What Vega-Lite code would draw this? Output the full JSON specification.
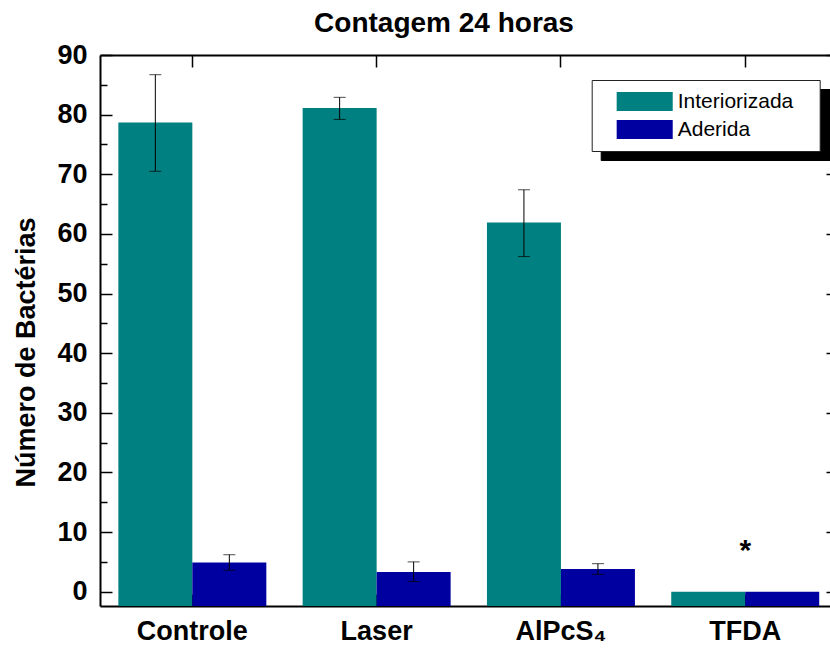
{
  "$schema": "https://vega.github.io/schema/vega-lite/v6.json",
  "autosize": {"type": "none"},
  "padding": {"left": 100, "top": 55, "right": 0, "bottom": 46},
  "width": 730,
  "height": 551,
  "background": "white",
  "config": {
    "font": "Liberation Sans",
    "view": {"stroke": null},
    "axis": {"grid": false, "domainColor": "black", "tickColor": "black", "domainWidth": 2, "tickWidth": 1.5, "labelColor": "black", "titleColor": "black", "labelFont": "Liberation Sans", "titleFont": "Liberation Sans"}
  },
  "datasets": {
    "barras": [
      {"grupo": "Controle", "serie": "Interiorizada", "valor": 78.7, "lo": 70.5, "hi": 86.7},
      {"grupo": "Controle", "serie": "Aderida", "valor": 4.9, "lo": 3.6, "hi": 6.2},
      {"grupo": "Laser", "serie": "Interiorizada", "valor": 81.1, "lo": 79.2, "hi": 82.9},
      {"grupo": "Laser", "serie": "Aderida", "valor": 3.3, "lo": 1.7, "hi": 5.0},
      {"grupo": "AlPcS₄", "serie": "Interiorizada", "valor": 61.9, "lo": 56.2, "hi": 67.4},
      {"grupo": "AlPcS₄", "serie": "Aderida", "valor": 3.8, "lo": 2.9, "hi": 4.7},
      {"grupo": "TFDA", "serie": "Interiorizada", "valor": 0},
      {"grupo": "TFDA", "serie": "Aderida", "valor": 0}
    ],
    "notas": [
      {"grupo": "TFDA", "y": 5.3, "texto": "*"}
    ]
  },
  "resolve": {"axis": {"x": "independent", "y": "independent"}},
  "layer": [
    {
      "data": {"name": "barras"},
      "mark": {"type": "bar"},
      "encoding": {
        "x": {"field": "grupo", "type": "nominal", "sort": ["Controle", "Laser", "AlPcS₄", "TFDA"],
          "scale": {"paddingInner": 0.197, "paddingOuter": 0.079, "align": 0.63},
          "axis": {"orient": "bottom", "title": null, "labelAngle": 0, "labelFontSize": 27, "labelFontWeight": "bold", "tickSize": -12, "labelPadding": 24}},
        "xOffset": {"field": "serie", "type": "nominal", "scale": {"domain": ["Interiorizada", "Aderida"], "paddingInner": 0, "paddingOuter": 0}},
        "y": {"field": "valor", "type": "quantitative",
          "scale": {"domain": [-2.4, 90], "nice": false, "zero": false},
          "axis": {"orient": "left", "title": "Número de Bactérias", "titleFontSize": 27, "titleFontWeight": "bold", "titleX": -66, "titleY": 297, "titleAngle": -90, "titleAlign": "center", "titleBaseline": "alphabetic",
            "values": [0, 5, 10, 15, 20, 25, 30, 35, 40, 45, 50, 55, 60, 65, 70, 75, 80, 85, 90],
            "labelExpr": "datum.value % 10 === 0 ? datum.label : ''",
            "labelFontSize": 27, "labelFontWeight": "bold", "labelPadding": 25,
            "tickSize": {"condition": {"test": "datum.value % 10 === 0", "value": -12}, "value": -7}}},
        "y2": {"datum": -2.4},
        "color": {"field": "serie", "type": "nominal",
          "scale": {"domain": ["Interiorizada", "Aderida"], "range": ["#008080", "#0000A0"]},
          "legend": {"title": null, "orient": "none", "legendX": 491.7, "legendY": 25, "zindex": 2,
            "fillColor": "white", "strokeColor": "#222222", "padding": 11, "cornerRadius": 0,
            "symbolType": "M-2.95,-1H2.95V1H-2.95Z", "symbolSize": 361, "symbolStrokeWidth": 0, "symbolOffset": 31.5,
            "labelFontSize": 21, "labelFont": "Liberation Sans", "labelColor": "black", "labelOffset": 22.5, "rowPadding": 6,
            "labelExpr": "datum.label + '\u2800'"}},
        "opacity": {"field": "serie", "type": "nominal",
          "scale": {"domain": ["Aderida", "Interiorizada"], "range": [1, 1]},
          "legend": {"title": null, "orient": "none", "legendX": 500.7, "legendY": 34, "zindex": 1,
            "fillColor": "black", "strokeColor": "black", "padding": 11, "cornerRadius": 0,
            "symbolType": "M-2.95,-1H2.95V1H-2.95Z", "symbolSize": 361, "symbolStrokeWidth": 0, "symbolOffset": 187, "symbolFillColor": "black",
            "labelFontSize": 21, "labelFont": "Liberation Sans", "labelColor": "black", "labelOffset": 0, "rowPadding": 6,
            "labelExpr": "''"}}
      }
    },
    {
      "data": {"name": "barras"},
      "transform": [{"filter": "isValid(datum.lo)"}],
      "mark": {"type": "rule", "color": "black", "strokeWidth": 1},
      "encoding": {
        "x": {"field": "grupo", "type": "nominal", "sort": ["Controle", "Laser", "AlPcS₄", "TFDA"],
          "axis": {"orient": "top", "title": "Contagem 24 horas", "titleFontSize": 28, "titleFontWeight": "bold", "titleX": 343.5, "titleY": -23.3, "titleAlign": "center", "titleBaseline": "alphabetic", "titleAngle": 0, "labels": false, "tickSize": -12}},
        "xOffset": {"field": "serie", "type": "nominal"},
        "y": {"field": "lo", "type": "quantitative",
          "axis": {"orient": "right", "title": null, "labels": false, "domain": false, "tickSize": -4,
            "values": [0, 10, 20, 30, 40, 50, 60, 70, 80, 90]}},
        "y2": {"field": "hi"}
      }
    },
    {
      "data": {"name": "barras"},
      "transform": [{"filter": "isValid(datum.lo)"}],
      "mark": {"type": "tick", "color": "black", "thickness": 1, "size": 12, "orient": "horizontal"},
      "encoding": {
        "x": {"field": "grupo", "type": "nominal", "sort": ["Controle", "Laser", "AlPcS₄", "TFDA"], "axis": null},
        "xOffset": {"field": "serie", "type": "nominal"},
        "y": {"field": "hi", "type": "quantitative", "axis": null}
      }
    },
    {
      "data": {"name": "barras"},
      "transform": [{"filter": "isValid(datum.lo)"}],
      "mark": {"type": "tick", "color": "black", "thickness": 1, "size": 12, "orient": "horizontal"},
      "encoding": {
        "x": {"field": "grupo", "type": "nominal", "sort": ["Controle", "Laser", "AlPcS₄", "TFDA"], "axis": null},
        "xOffset": {"field": "serie", "type": "nominal"},
        "y": {"field": "lo", "type": "quantitative", "axis": null}
      }
    },
    {
      "data": {"name": "notas"},
      "mark": {"type": "text", "fontSize": 30, "fontWeight": "bold", "font": "Liberation Sans", "color": "black", "baseline": "alphabetic", "align": "center"},
      "encoding": {
        "x": {"field": "grupo", "type": "nominal", "sort": ["Controle", "Laser", "AlPcS₄", "TFDA"], "axis": null},
        "y": {"field": "y", "type": "quantitative", "axis": null},
        "text": {"field": "texto"}
      }
    }
  ]
}
